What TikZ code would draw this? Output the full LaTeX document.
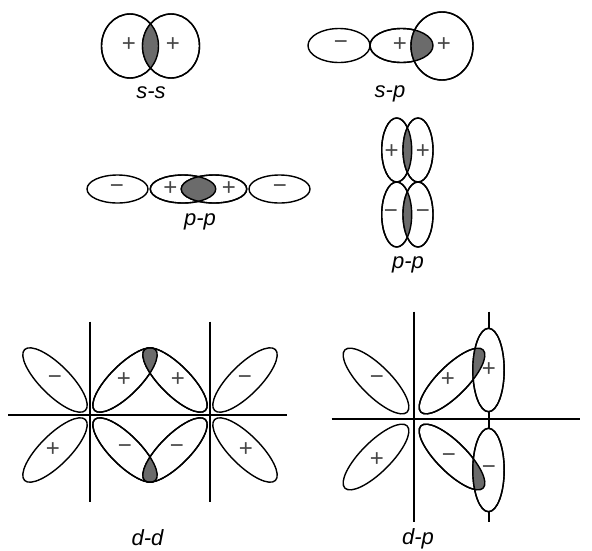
\documentclass[tikz,border=0pt]{standalone}
\usepackage{fontspec}
\setmainfont{Liberation Sans}
\begin{document}
\begin{tikzpicture}[x=1pt,y=-1pt,
  lobe/.style={draw=black,line width=1.4pt,fill=white},
  outl/.style={draw=black,line width=1.4pt},
  lens/.style={fill=black!58},
  axisline/.style={draw=black,line width=1.4pt},
  sgn/.style={font=\fontsize{24}{28}\selectfont,text=black!72,inner sep=0pt},
  captxt/.style={font=\fontsize{22}{26}\selectfont\itshape,inner sep=0pt,anchor=base}]
\useasboundingbox (0,0) rectangle (592,550);

% ---------- s-s ----------
\path[lobe] (130,46) circle [x radius=28.5,y radius=32];
\path[lobe] (171,46) circle [x radius=28.5,y radius=32];
\begin{scope}
  \clip (130,46) circle [x radius=28.5,y radius=32];
  \path[lens] (171,46) circle [x radius=28.5,y radius=32];
\end{scope}
\path[outl] (130,46) circle [x radius=28.5,y radius=32];
\path[outl] (171,46) circle [x radius=28.5,y radius=32];
\node[sgn] (ss1) at (129,45) {+};
\node[sgn] (ss2) at (173,45) {+};
\node[captxt] (sscap) at (151,98) {s-s};

% ---------- s-p ----------
\path[lobe] (339,45.5) circle [x radius=31,y radius=17];
\path[lobe] (401.5,45.5) circle [x radius=31.5,y radius=17];
\path[lobe] (442,46) circle [x radius=31,y radius=34];
\begin{scope}
  \clip (401.5,45.5) circle [x radius=31.5,y radius=17];
  \path[lens] (442,46) circle [x radius=31,y radius=34];
\end{scope}
\path[outl] (401.5,45.5) circle [x radius=31.5,y radius=17];
\path[outl] (442,46) circle [x radius=31,y radius=34];
\node[sgn] (sp1) at (341,45) {−};
\node[sgn] (sp2) at (400,45) {+};
\node[sgn] (sp3) at (444,45) {+};
\node[captxt] (spcap) at (390,97) {s-p};

% ---------- p-p horizontal ----------
\path[lobe] (117.5,189) circle [x radius=30.5,y radius=14];
\path[lobe] (183,189) circle [x radius=32.75,y radius=14];
\path[lobe] (214,189) circle [x radius=32.75,y radius=14];
\path[lobe] (279.5,189) circle [x radius=30.5,y radius=14];
\begin{scope}
  \clip (183,189) circle [x radius=32.75,y radius=14];
  \path[lens] (214,189) circle [x radius=32.75,y radius=14];
\end{scope}
\path[outl] (183,189) circle [x radius=32.75,y radius=14];
\path[outl] (214,189) circle [x radius=32.75,y radius=14];
\node[sgn] (ph1) at (117,189) {−};
\node[sgn] (ph2) at (170.5,189) {+};
\node[sgn] (ph3) at (229,189) {+};
\node[sgn] (ph4) at (280,189) {−};
\node[captxt] (phcap) at (200,225) {p-p};

% ---------- p-p vertical ----------
\path[lobe] (396.7,150) circle [x radius=15,y radius=32];
\path[lobe] (418,150) circle [x radius=15,y radius=32];
\path[lobe] (396.7,214.5) circle [x radius=15,y radius=32.5];
\path[lobe] (418,214.5) circle [x radius=15,y radius=32.5];
\begin{scope}
  \clip (396.7,150) circle [x radius=15,y radius=32];
  \path[lens] (418,150) circle [x radius=15,y radius=32];
\end{scope}
\begin{scope}
  \clip (396.7,214.5) circle [x radius=15,y radius=32.5];
  \path[lens] (418,214.5) circle [x radius=15,y radius=32.5];
\end{scope}
\path[outl] (396.7,150) circle [x radius=15,y radius=32];
\path[outl] (418,150) circle [x radius=15,y radius=32];
\path[outl] (396.7,214.5) circle [x radius=15,y radius=32.5];
\path[outl] (418,214.5) circle [x radius=15,y radius=32.5];
\node[sgn] (pv1) at (391.7,151.5) {+};
\node[sgn] (pv2) at (423,151.5) {+};
\node[sgn] (pv3) at (391,214) {−};
\node[sgn] (pv4) at (423,214) {−};
\node[captxt] (pvcap) at (408,268) {p-p};

% ---------- d-d ----------
\coordinate (ddh1) at (8.3,415);
\coordinate (ddh2) at (286.7,415);
\coordinate (ddv1a) at (90,321.7);
\coordinate (ddv1b) at (90,501.7);
\coordinate (ddv2a) at (210,321.7);
\coordinate (ddv2b) at (210,501.7);
\draw[axisline] (ddh1) -- (ddh2);
\draw[axisline] (ddv1a) -- (ddv1b);
\draw[axisline] (ddv2a) -- (ddv2b);
\path[lobe] (55,380) circle [x radius=43,y radius=15,rotate=-45];
\path[lobe] (125,380) circle [x radius=43,y radius=15,rotate=45];
\path[lobe] (55,450) circle [x radius=43,y radius=15,rotate=45];
\path[lobe] (125,450) circle [x radius=43,y radius=15,rotate=-45];
\path[lobe] (175,380) circle [x radius=43,y radius=15,rotate=-45];
\path[lobe] (245,380) circle [x radius=43,y radius=15,rotate=45];
\path[lobe] (175,450) circle [x radius=43,y radius=15,rotate=45];
\path[lobe] (245,450) circle [x radius=43,y radius=15,rotate=-45];
\begin{scope}
  \clip (125,380) circle [x radius=43,y radius=15,rotate=45];
  \path[lens] (175,380) circle [x radius=43,y radius=15,rotate=-45];
\end{scope}
\begin{scope}
  \clip (125,450) circle [x radius=43,y radius=15,rotate=-45];
  \path[lens] (175,450) circle [x radius=43,y radius=15,rotate=45];
\end{scope}
\path[outl] (125,380) circle [x radius=43,y radius=15,rotate=45];
\path[outl] (175,380) circle [x radius=43,y radius=15,rotate=-45];
\path[outl] (125,450) circle [x radius=43,y radius=15,rotate=-45];
\path[outl] (175,450) circle [x radius=43,y radius=15,rotate=45];
\node[sgn] (dd1) at (55,380) {−};
\node[sgn] (dd2) at (53,450) {+};
\node[sgn] (dd3) at (124,380) {+};
\node[sgn] (dd4) at (178,380) {+};
\node[sgn] (dd5) at (245,380) {−};
\node[sgn] (dd6) at (125,449) {−};
\node[sgn] (dd7) at (177,449) {−};
\node[sgn] (dd8) at (246,450) {+};
\node[captxt] (ddcap) at (147.5,545) {d-d};

% ---------- d-p ----------
\coordinate (dph1) at (331.7,419);
\coordinate (dph2) at (580,419);
\coordinate (dpv1a) at (414,311.7);
\coordinate (dpv1b) at (414,521.7);
\coordinate (dpv2a) at (489,311.7);
\coordinate (dpv2b) at (489,521.7);
\draw[axisline] (dph1) -- (dph2);
\draw[axisline] (dpv1a) -- (dpv1b);
\draw[axisline] (dpv2a) -- (dpv2b);
\path[lobe] (376,381) circle [x radius=44,y radius=15,rotate=-45];
\path[lobe] (452,381) circle [x radius=44,y radius=15,rotate=45];
\path[lobe] (376,457) circle [x radius=44,y radius=15,rotate=45];
\path[lobe] (452,457) circle [x radius=44,y radius=15,rotate=-45];
\path[lobe] (488.5,370) circle [x radius=15.7,y radius=41.7];
\path[lobe] (488.5,470) circle [x radius=15.7,y radius=41.7];
\begin{scope}
  \clip (452,381) circle [x radius=44,y radius=15,rotate=45];
  \path[lens] (488.5,370) circle [x radius=15.7,y radius=41.7];
\end{scope}
\begin{scope}
  \clip (452,457) circle [x radius=44,y radius=15,rotate=-45];
  \path[lens] (488.5,470) circle [x radius=15.7,y radius=41.7];
\end{scope}
\path[outl] (452,381) circle [x radius=44,y radius=15,rotate=45];
\path[outl] (452,457) circle [x radius=44,y radius=15,rotate=-45];
\path[outl] (488.5,370) circle [x radius=15.7,y radius=41.7];
\path[outl] (488.5,470) circle [x radius=15.7,y radius=41.7];
\node[sgn] (dp1) at (377,380) {−};
\node[sgn] (dp2) at (448,380) {+};
\node[sgn] (dp3) at (377,460) {+};
\node[sgn] (dp4) at (449,458) {−};
\node[sgn] (dp5) at (489,370) {+};
\node[sgn] (dp6) at (489,470) {−};
\node[captxt] (dpcap) at (418,544) {d-p};
\end{tikzpicture}
\end{document}
